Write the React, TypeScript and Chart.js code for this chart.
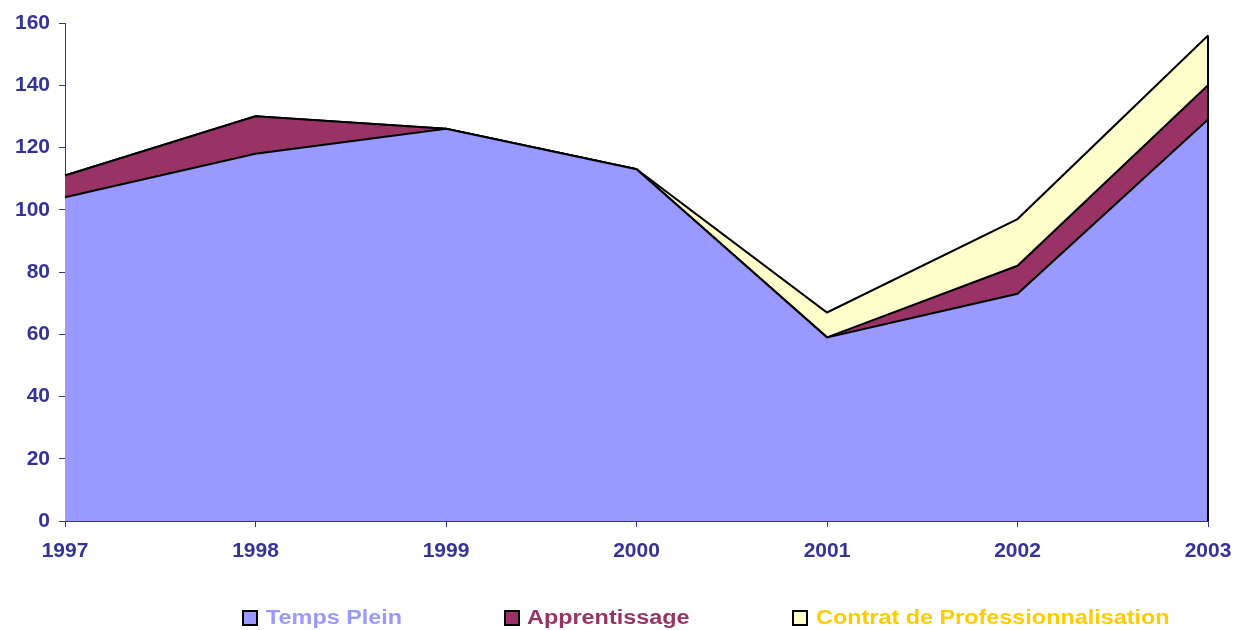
import React, { useEffect, useRef } from "react";
import { Chart, registerables } from "chart.js";

Chart.register(...registerables);

const years = ["1997", "1998", "1999", "2000", "2001", "2002", "2003"];
const tempsPlein = [104, 118, 126, 113, 59, 73, 129];
const apprentissage = [7, 12, 0, 0, 0, 9, 11];
const contratPro = [0, 0, 0, 0, 8, 15, 16];
const seriesNames = ["Temps Plein", "Apprentissage", "Contrat de Professionnalisation"];
const fillColors = ["#9999FF", "#993366", "#FFFFCC"];
const legendTextColors = ["#9999FF", "#993366", "#FFCC00"];
const legendBoxX = [243, 505, 793];
const legendTextX = [266, 527, 816];

const AXIS = "#333399";
const FONT = "'Liberation Sans', Arial, sans-serif";

export default function App() {
  const ref = useRef<HTMLCanvasElement | null>(null);

  useEffect(() => {
    document.body.style.margin = "0";
    const canvas = ref.current;
    if (!canvas) return;

    const edgePlugin = {
      id: "edge",
      afterDatasetsDraw(chart: any) {
        const xs = chart.scales.x;
        const ys = chart.scales.y;
        const last = years.length - 1;
        const total = tempsPlein[last] + apprentissage[last] + contratPro[last];
        const ctx = chart.ctx;
        ctx.save();
        ctx.strokeStyle = "#000";
        ctx.lineWidth = 2;
        const x = xs.getPixelForValue(last);
        ctx.beginPath();
        ctx.moveTo(x, ys.getPixelForValue(0));
        ctx.lineTo(x, ys.getPixelForValue(total));
        ctx.stroke();
        ctx.restore();
      },
    };

    const legendPlugin = {
      id: "customLegend",
      afterDraw(chart: any) {
        const ctx = chart.ctx;
        ctx.save();
        seriesNames.forEach((name, i) => {
          ctx.fillStyle = fillColors[i];
          ctx.fillRect(legendBoxX[i], 611, 14, 14);
          ctx.strokeStyle = "#000";
          ctx.lineWidth = 2;
          ctx.strokeRect(legendBoxX[i], 611, 14, 14);
          ctx.save();
          ctx.translate(legendTextX[i], 624);
          ctx.scale(1.17, 1);
          ctx.font = `bold 20px ${FONT}`;
          ctx.fillStyle = legendTextColors[i];
          ctx.textAlign = "left";
          ctx.textBaseline = "alphabetic";
          ctx.fillText(name, 0, 0);
          ctx.restore();
        });
        ctx.restore();
      },
    };

    const values = [tempsPlein, apprentissage, contratPro];

    const chart = new Chart(canvas, {
      type: "line",
      data: {
        labels: years,
        datasets: values.map((v, i) => ({
          label: seriesNames[i],
          data: v,
          fill: i === 0 ? "origin" : "-1",
          backgroundColor: fillColors[i],
          borderColor: "#000",
          borderWidth: 2,
          pointRadius: 0,
          tension: 0,
        })),
      },
      options: {
        animation: false,
        responsive: false,
        layout: { padding: { left: 0, right: 26, top: 23, bottom: 59 } },
        plugins: {
          legend: { display: false },
          tooltip: { enabled: false },
        },
        scales: {
          x: {
            type: "category",
            offset: false,
            z: 1,
            afterFit: (s: any) => {
              s.height = 50;
              s.paddingRight = 0;
              s.paddingLeft = 0;
            },
            grid: {
              display: true,
              drawOnChartArea: false,
              drawTicks: true,
              tickLength: 6,
              color: AXIS,
            },
            border: { display: true, color: AXIS, width: 1 },
            ticks: {
              color: AXIS,
              font: { family: FONT, size: 21, weight: "bold" },
              padding: 12,
              maxRotation: 0,
              autoSkip: false,
            },
          },
          y: {
            stacked: true,
            min: 0,
            max: 160,
            z: 1,
            afterFit: (s: any) => {
              s.width = 65;
            },
            grid: {
              display: true,
              drawOnChartArea: false,
              drawTicks: true,
              tickLength: 6,
              color: AXIS,
            },
            border: { display: true, color: AXIS, width: 1 },
            ticks: {
              stepSize: 20,
              color: AXIS,
              font: { family: FONT, size: 21, weight: "bold" },
              padding: 9,
            },
          },
        },
      },
      plugins: [edgePlugin, legendPlugin],
    });

    return () => chart.destroy();
  }, []);

  return (
    <div style={{ width: 1234, height: 630 }}>
      <canvas ref={ref} width={1234} height={630} />
    </div>
  );
}
